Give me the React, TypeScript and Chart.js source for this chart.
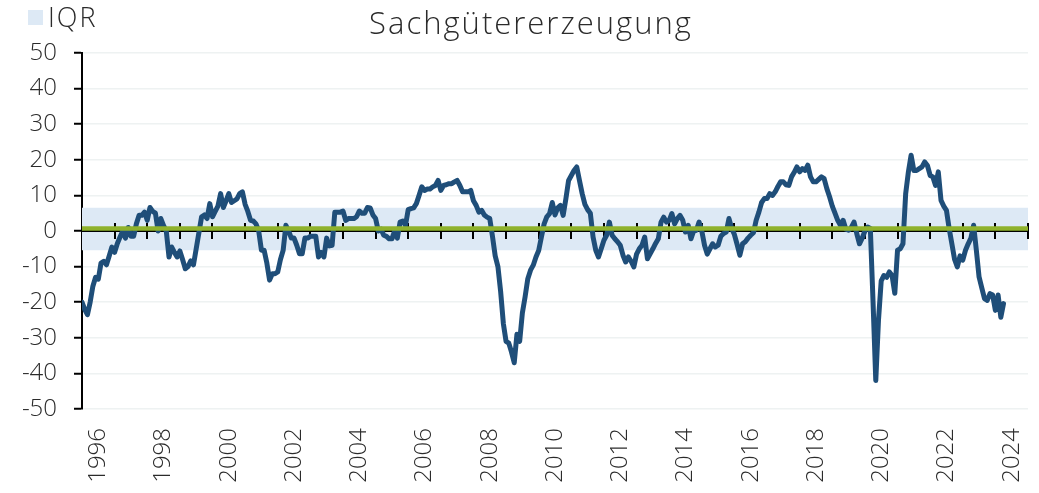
import React, { useEffect, useRef } from "react";
import { Chart, registerables } from "chart.js";

Chart.register(...registerables);

// Monthly balance values, Jan 1996 .. Apr 2024
const v1996 = [-20, -22, -23.5, -20, -15.5, -13, -13.5, -9, -8.5, -9.5, -7, -4.5];
const v1997 = [-6, -3.5, -1.7, 0, -2, 1, -1.5, -1.5, 2, 4.4, 4.4, 5.3];
const v1998 = [3, 6.6, 5.5, 5, 0, 3.5, 1.5, 0, -7.3, -4.5, -6, -7.3];
const v1999 = [-5.6, -8, -10.6, -10, -8.4, -9.5, -5, -0.5, 4, 4.5, 3.5, 7.7];
const v2000 = [4, 5.5, 7, 10.5, 6.6, 8.5, 10.5, 8, 8.5, 9, 10.5, 11];
const v2001 = [7.5, 5.5, 3, 2.8, 2, 0, -5.4, -5.4, -9, -13.8, -12, -12];
const v2002 = [-11.5, -8, -5.4, 1.6, 0, -2, -2, -4, -6.4, -6.4, -2, -2];
const v2003 = [-1.5, -1.5, -1.5, -7.3, -6, -7.3, -2, -4.2, -4, 5.3, 5.3, 5.3];
const v2004 = [5.6, 3, 3.5, 3.5, 3.5, 4, 5.6, 5, 5, 6.6, 6.5, 4.5];
const v2005 = [3.5, 0, 0.5, -1.2, -1.5, -2.2, -2.2, 0, -2, 2.5, 2.8, 1.6];
const v2006 = [6, 6.3, 6.5, 7.7, 10, 12.4, 11.4, 11.8, 11.8, 12.4, 12.8, 14.2];
const v2007 = [11.4, 12.8, 13, 13.3, 13.3, 13.8, 14.2, 12.8, 11, 11, 11, 11.4];
const v2008 = [8.5, 7.2, 5.3, 5.8, 4.5, 3.9, 3.5, -1.5, -7, -10, -17, -26];
const v2009 = [-31, -31.5, -34, -37, -29, -31, -23, -18.5, -13.4, -11, -9.6, -7.3];
const v2010 = [-5.5, -1.7, 2, 4, 4.9, 8, 4.5, 6.5, 7.2, 4.4, 9, 14.2];
const v2011 = [15.6, 17, 18, 14.2, 10.5, 7.5, 6, 5, -1.7, -5.4, -7.3, -5];
const v2012 = [-2.6, -1.2, 2.5, -1.2, -2.2, -3, -4, -6.8, -8.7, -7.3, -8.5, -10.1];
const v2013 = [-6.5, -5, -4, -1.7, -7.8, -6.4, -5, -3.5, -2.2, 2.5, 3.9, 2.5];
const v2014 = [3, 4.9, 2, 3.5, 4.4, 3, -0.3, 1.6, -2.2, 0, 0.2, 2.5];
const v2015 = [0, -4, -6.5, -5, -3.6, -4.5, -4, -1.5, -0.7, -0.3, 3.5, 0.7];
const v2016 = [-1, -3.8, -6.8, -3.6, -3, -2, -1.2, -0.5, 3, 5.3, 8, 9.1];
const v2017 = [9.1, 10.5, 10, 11, 12.5, 13.8, 13.8, 13, 12.8, 15.2, 16.5, 18];
const v2018 = [16.6, 17.5, 17, 18.5, 15.2, 13.8, 13.8, 14.5, 15.2, 14.7, 11.9, 9.6];
const v2019 = [7, 5, 3, 1.6, 3, 0.5, 0.2, 1, 2.5, -0.7, -3.6, -2];
const v2020 = [0, 1.1, 0.7, -20, -42, -25, -14, -12.5, -13, -11.5, -12.5, -17.5];
const v2021 = [-5.4, -5, -3.6, 10.5, 16.6, 21.3, 17, 17, 17.5, 18, 19.4, 18.4];
const v2022 = [15.6, 15.2, 12.8, 16.6, 8.6, 7, 5.8, 0.7, -3.6, -8, -10.1, -7];
const v2023 = [-8.2, -5.4, -3.6, -2, 1.6, -5.4, -12.9, -16, -19, -19.5, -17.6, -18];
const v2024 = [-22.3, -18, -24.2, -20.4];

const FIRST_YEAR = 1996;
const LAST_AXIS_YEAR = 2025;
const yearLabels = [1996, 1998, 2000, 2002, 2004, 2006, 2008, 2010, 2012, 2014, 2016, 2018, 2020, 2022, 2024];

const IQR_LOW = -5.4;
const IQR_HIGH = 6.5;
const MEDIAN = 0.7;

const TITLE = "Sachgütererzeugung";
const LEGEND_LABEL = "IQR";

const series = [
  v1996, v1997, v1998, v1999, v2000, v2001, v2002, v2003, v2004, v2005,
  v2006, v2007, v2008, v2009, v2010, v2011, v2012, v2013, v2014, v2015,
  v2016, v2017, v2018, v2019, v2020, v2021, v2022, v2023, v2024,
].flat();

const BLUE = "#1f4e79";
const GREEN = "#8fb22c";
const BAND = "#dde9f5";
const TEXT = "#2b2b2b";
const FONT = "'Open Sans', Lato, sans-serif";
const WEIGHT = "300";

export default function App() {
  const ref = useRef<HTMLCanvasElement>(null);

  useEffect(() => {
    document.body.style.margin = "0";
    const canvas = ref.current!;
    const points = series.map((v, i) => ({ x: FIRST_YEAR + i / 12, y: v }));

    const overlay = {
      id: "overlay",
      beforeDatasetDraw(chart: any, args: any) {
        if (args.index !== 1) return;
        const { ctx, chartArea } = chart;
        const xs = chart.scales.x;
        const ys = chart.scales.y;
        const y0 = ys.getPixelForValue(0);
        ctx.save();
        ctx.strokeStyle = "#000";
        ctx.lineWidth = 2;
        ctx.beginPath();
        ctx.moveTo(chartArea.left, y0);
        ctx.lineTo(chartArea.right, y0);
        for (let yr = FIRST_YEAR + 1; yr <= LAST_AXIS_YEAR; yr++) {
          const px = Math.round(xs.getPixelForValue(yr));
          ctx.moveTo(px, y0 - 8);
          ctx.lineTo(px, y0 + 8);
        }
        ctx.stroke();
        ctx.restore();
      },
      afterDraw(chart: any) {
        const { ctx } = chart;
        ctx.save();
        ctx.fillStyle = TEXT;
        ctx.textBaseline = "alphabetic";
        ctx.font = `${WEIGHT} 31px ${FONT}`;
        ctx.textAlign = "center";
        (ctx as any).letterSpacing = "2px";
        ctx.fillText(TITLE, 531, 34);
        ctx.fillStyle = BAND;
        ctx.fillRect(28, 10, 15, 15);
        ctx.fillStyle = TEXT;
        ctx.textAlign = "left";
        ctx.font = `${WEIGHT} 27px ${FONT}`;
        (ctx as any).letterSpacing = "2px";
        ctx.fillText(LEGEND_LABEL, 48, 27);
        ctx.restore();
      },
    };

    const chart = new Chart(canvas, {
      type: "line",
      data: {
        datasets: [
          {
            label: "Median",
            data: [
              { x: FIRST_YEAR, y: MEDIAN },
              { x: LAST_AXIS_YEAR, y: MEDIAN },
            ],
            borderColor: GREEN,
            borderWidth: 4.5,
            pointRadius: 0,
            fill: false,
          },
          {
            label: TITLE,
            data: points,
            borderColor: BLUE,
            borderWidth: 5,
            pointRadius: 0,
            tension: 0,
            fill: false,
            borderJoinStyle: "round",
            borderCapStyle: "round",
          },
          {
            label: LEGEND_LABEL,
            data: [
              { x: FIRST_YEAR, y: IQR_HIGH },
              { x: LAST_AXIS_YEAR, y: IQR_HIGH },
            ],
            borderWidth: 0,
            borderColor: "rgba(0,0,0,0)",
            backgroundColor: BAND,
            pointRadius: 0,
            fill: { value: IQR_LOW },
          },
        ],
      },
      options: {
        responsive: false,
        animation: false,
        devicePixelRatio: 1,
        layout: { padding: { top: 53, right: 11, left: 0, bottom: 0 } },
        plugins: {
          legend: { display: false },
          title: { display: false },
          tooltip: { enabled: false },
        },
        scales: {
          x: {
            type: "linear",
            min: FIRST_YEAR,
            max: LAST_AXIS_YEAR,
            grid: { display: false, drawTicks: false },
            border: { display: false },
            afterBuildTicks: (s: any) => {
              s.ticks = yearLabels.map((v) => ({ value: v + 0.5 }));
            },
            afterFit: (s: any) => {
              s.height = 84;
              s.paddingLeft = 0;
              s.paddingRight = 0;
            },
            ticks: {
              autoSkip: false,
              maxRotation: 90,
              minRotation: 90,
              padding: 19,
              color: TEXT,
              font: { family: FONT, size: 24, weight: WEIGHT },
              callback: (v: any) => String(Math.floor(Number(v))),
            },
          },
          y: {
            min: -50,
            max: 50,
            afterFit: (s: any) => {
              s.width = 82;
            },
            ticks: {
              stepSize: 10,
              padding: 17,
              color: TEXT,
              font: { family: FONT, size: 24, weight: WEIGHT },
            },
            grid: {
              color: "#eef2f2",
              lineWidth: 1.5,
              drawTicks: true,
              tickLength: 8,
              tickColor: "#000",
              tickWidth: 2,
            },
            border: { display: true, color: "#000", width: 2 },
          },
        },
      },
      plugins: [overlay],
    } as any);

    return () => chart.destroy();
  }, []);

  return (
    <div>
      <canvas ref={ref} width={1039} height={493} style={{ display: "block" }} />
    </div>
  );
}
